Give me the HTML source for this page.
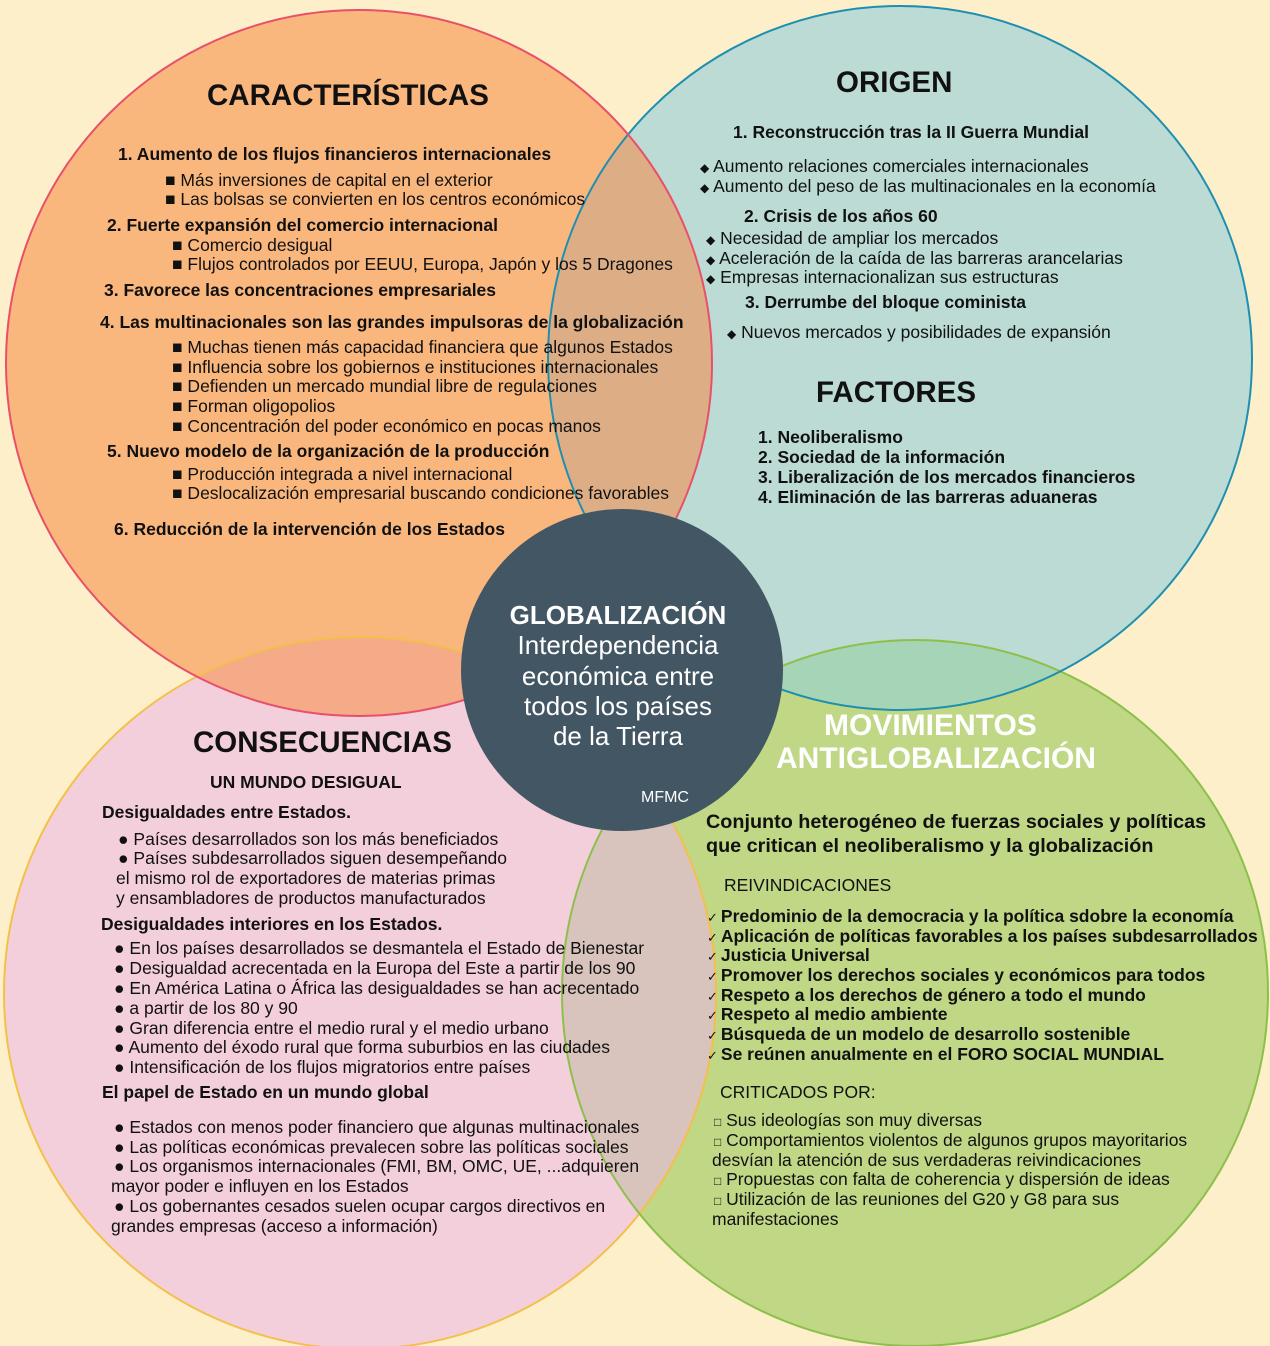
<!DOCTYPE html>
<html><head><meta charset="utf-8"><style>
html,body{margin:0;padding:0}
body{width:1270px;height:1346px;background:#fcefca;position:relative;overflow:hidden;font-family:"Liberation Sans",Arial,sans-serif;color:#111}
svg{position:absolute;left:0;top:0}
.t{position:absolute;white-space:nowrap;font-size:17.5px;line-height:20px;letter-spacing:0px;transform:translateY(-10px)}
.b{font-weight:bold}
.h{position:absolute;white-space:nowrap;font-weight:bold;font-size:29.5px;line-height:32px;transform:translateY(-16px)}
.w{color:#fff}
.c{position:absolute;white-space:nowrap;color:#fff;font-size:26px;line-height:30px;text-align:center;width:320px;left:458px;transform:translateY(-15px)}
.k{font-weight:normal;font-size:13px;margin-right:3px}
</style></head><body>
<svg width="1270" height="1346" viewBox="0 0 1270 1346">
<defs>
<clipPath id="co"><circle cx="359" cy="363" r="353"/></clipPath>
<clipPath id="cp"><circle cx="360" cy="993" r="356"/></clipPath>
<clipPath id="ct"><circle cx="900" cy="358" r="352"/></clipPath>
</defs>
<circle cx="360" cy="993" r="356" fill="#f3cfdc"/>
<circle cx="915" cy="993" r="353" fill="#c0d786"/>
<circle cx="359" cy="363" r="353" fill="#f9b77e"/>
<circle cx="900" cy="358" r="352" fill="#bcdbd4"/>
<circle cx="900" cy="358" r="352" fill="#ddae86" clip-path="url(#co)"/>
<circle cx="360" cy="993" r="356" fill="#f5aa88" clip-path="url(#co)"/>
<circle cx="915" cy="993" r="353" fill="#a6d4b6" clip-path="url(#ct)"/>
<circle cx="915" cy="993" r="353" fill="#d8c3bd" clip-path="url(#cp)"/>
<circle cx="360" cy="993" r="356" fill="none" stroke="#f3c04a" stroke-width="2"/>
<circle cx="915" cy="993" r="353" fill="none" stroke="#8cc04a" stroke-width="2"/>
<circle cx="900" cy="358" r="352" fill="none" stroke="#1e8fb0" stroke-width="2"/>
<circle cx="359" cy="363" r="353" fill="none" stroke="#e8506a" stroke-width="2"/>
<circle cx="622" cy="670" r="161" fill="#435663"/>
</svg>

<div class="h" style="left:207px;top:96px">CARACTERÍSTICAS</div>
<div class="t b" style="left:118px;top:154px">1. Aumento de los flujos financieros internacionales</div>
<div class="t" style="left:165px;top:180px">■ Más inversiones de capital en el exterior</div>
<div class="t" style="left:165px;top:199px">■ Las bolsas se convierten en los centros económicos</div>
<div class="t b" style="left:107px;top:225px">2. Fuerte expansión del comercio internacional</div>
<div class="t" style="left:172px;top:245px">■ Comercio desigual</div>
<div class="t" style="left:172px;top:264px">■ Flujos controlados por EEUU, Europa, Japón y los 5 Dragones</div>
<div class="t b" style="left:104px;top:290px">3. Favorece las concentraciones empresariales</div>
<div class="t b" style="left:100px;top:322px">4. Las multinacionales son las grandes impulsoras de la globalización</div>
<div class="t" style="left:172px;top:347px">■ Muchas tienen más capacidad financiera que algunos Estados</div>
<div class="t" style="left:172px;top:367px">■ Influencia sobre los gobiernos e instituciones internacionales</div>
<div class="t" style="left:172px;top:386px">■ Defienden un mercado mundial libre de regulaciones</div>
<div class="t" style="left:172px;top:406px">■ Forman oligopolios</div>
<div class="t" style="left:172px;top:426px">■ Concentración del poder económico en pocas manos</div>
<div class="t b" style="left:107px;top:451px">5. Nuevo modelo de la organización de la producción</div>
<div class="t" style="left:172px;top:474px">■ Producción integrada a nivel internacional</div>
<div class="t" style="left:172px;top:493px">■ Deslocalización empresarial buscando condiciones favorables</div>
<div class="t b" style="left:114px;top:529px">6. Reducción de la intervención de los Estados</div>

<div class="h" style="left:836px;top:83px">ORIGEN</div>
<div class="t b" style="left:733px;top:132px">1. Reconstrucción tras la II Guerra Mundial</div>
<div class="t" style="left:700px;top:166px"><span style="font-size:12px">◆</span> Aumento relaciones comerciales internacionales</div>
<div class="t" style="left:700px;top:186px"><span style="font-size:12px">◆</span> Aumento del peso de las multinacionales en la economía</div>
<div class="t b" style="left:744px;top:216px">2. Crisis de los años 60</div>
<div class="t" style="left:706px;top:238px"><span style="font-size:12px">◆</span> Necesidad de ampliar los mercados</div>
<div class="t" style="left:706px;top:258px"><span style="font-size:12px">◆</span> Aceleración de la caída de las barreras arancelarias</div>
<div class="t" style="left:706px;top:277px"><span style="font-size:12px">◆</span> Empresas internacionalizan sus estructuras</div>
<div class="t b" style="left:745px;top:302px">3. Derrumbe del bloque cominista</div>
<div class="t" style="left:727px;top:332px"><span style="font-size:12px">◆</span> Nuevos mercados y posibilidades de expansión</div>
<div class="h" style="left:816px;top:393px">FACTORES</div>
<div class="t b" style="left:758px;top:437px">1. Neoliberalismo</div>
<div class="t b" style="left:758px;top:457px">2. Sociedad de la información</div>
<div class="t b" style="left:758px;top:477px">3. Liberalización de los mercados financieros</div>
<div class="t b" style="left:758px;top:497px">4. Eliminación de las barreras aduaneras</div>

<div class="c" style="top:615px;font-weight:bold">GLOBALIZACIÓN</div>
<div class="c" style="top:645px">Interdependencia</div>
<div class="c" style="top:676px">económica entre</div>
<div class="c" style="top:706px">todos los países</div>
<div class="c" style="top:736px">de la Tierra</div>
<div class="t w" style="left:641px;top:798px;font-size:16px">MFMC</div>

<div class="h" style="left:193px;top:743px">CONSECUENCIAS</div>
<div class="t b" style="left:210px;top:782px">UN MUNDO DESIGUAL</div>
<div class="t b" style="left:102px;top:812px">Desigualdades entre Estados.</div>
<div class="t" style="left:118px;top:839px">● Países desarrollados son los más beneficiados</div>
<div class="t" style="left:118px;top:858px">● Países subdesarrollados siguen desempeñando</div>
<div class="t" style="left:116px;top:878px">el mismo rol de exportadores de materias primas</div>
<div class="t" style="left:116px;top:898px">y ensambladores de productos manufacturados</div>
<div class="t b" style="left:101px;top:924px">Desigualdades interiores en los Estados.</div>
<div class="t" style="left:114px;top:948px">● En los países desarrollados se desmantela el Estado de Bienestar</div>
<div class="t" style="left:114px;top:968px">● Desigualdad acrecentada en la Europa del Este a partir de los 90</div>
<div class="t" style="left:114px;top:988px">● En América Latina o África las desigualdades se han acrecentado</div>
<div class="t" style="left:114px;top:1008px">● a partir de los 80 y 90</div>
<div class="t" style="left:114px;top:1028px">● Gran diferencia entre el medio rural y el medio urbano</div>
<div class="t" style="left:114px;top:1047px">● Aumento del éxodo rural que forma suburbios en las ciudades</div>
<div class="t" style="left:114px;top:1067px">● Intensificación de los flujos migratorios entre países</div>
<div class="t b" style="left:102px;top:1092px">El papel de Estado en un mundo global</div>
<div class="t" style="left:114px;top:1127px">● Estados con menos poder financiero que algunas multinacionales</div>
<div class="t" style="left:114px;top:1147px">● Las políticas económicas prevalecen sobre las políticas sociales</div>
<div class="t" style="left:114px;top:1166px">● Los organismos internacionales (FMI, BM, OMC, UE, ...adquieren</div>
<div class="t" style="left:111px;top:1186px">mayor poder e influyen en los Estados</div>
<div class="t" style="left:114px;top:1206px">● Los gobernantes cesados suelen ocupar cargos directivos en</div>
<div class="t" style="left:111px;top:1226px">grandes empresas (acceso a información)</div>

<div class="h w" style="left:824px;top:726px;font-size:30px">MOVIMIENTOS</div>
<div class="h w" style="left:776px;top:759px;font-size:30px">ANTIGLOBALIZACIÓN</div>
<div class="t b" style="left:706px;top:822px;font-size:19.8px">Conjunto heterogéneo de fuerzas sociales y políticas</div>
<div class="t b" style="left:706px;top:846px;font-size:19.8px">que critican el neoliberalismo y la globalización</div>
<div class="t" style="left:724px;top:885px">REIVINDICACIONES</div>
<div class="t b" style="left:707px;top:916px"><span class="k">✓</span>Predominio de la democracia y la política sdobre la economía</div>
<div class="t b" style="left:707px;top:936px"><span class="k">✓</span>Aplicación de políticas favorables a los países subdesarrollados</div>
<div class="t b" style="left:707px;top:955px"><span class="k">✓</span>Justicia Universal</div>
<div class="t b" style="left:707px;top:975px"><span class="k">✓</span>Promover los derechos sociales y económicos para todos</div>
<div class="t b" style="left:707px;top:995px"><span class="k">✓</span>Respeto a los derechos de género a todo el mundo</div>
<div class="t b" style="left:707px;top:1014px"><span class="k">✓</span>Respeto al medio ambiente</div>
<div class="t b" style="left:707px;top:1034px"><span class="k">✓</span>Búsqueda de un modelo de desarrollo sostenible</div>
<div class="t b" style="left:707px;top:1054px"><span class="k">✓</span>Se reúnen anualmente en el FORO SOCIAL MUNDIAL</div>
<div class="t" style="left:720px;top:1092px">CRITICADOS POR:</div>
<div class="t" style="left:714px;top:1120px"><span style="font-size:12px">□</span> Sus ideologías son muy diversas</div>
<div class="t" style="left:714px;top:1140px"><span style="font-size:12px">□</span> Comportamientos violentos de algunos grupos mayoritarios</div>
<div class="t" style="left:712px;top:1160px">desvían la atención de sus verdaderas reivindicaciones</div>
<div class="t" style="left:714px;top:1179px"><span style="font-size:12px">□</span> Propuestas con falta de coherencia y dispersión de ideas</div>
<div class="t" style="left:714px;top:1199px"><span style="font-size:12px">□</span> Utilización de las reuniones del G20 y G8 para sus</div>
<div class="t" style="left:712px;top:1219px">manifestaciones</div>
</body></html>
